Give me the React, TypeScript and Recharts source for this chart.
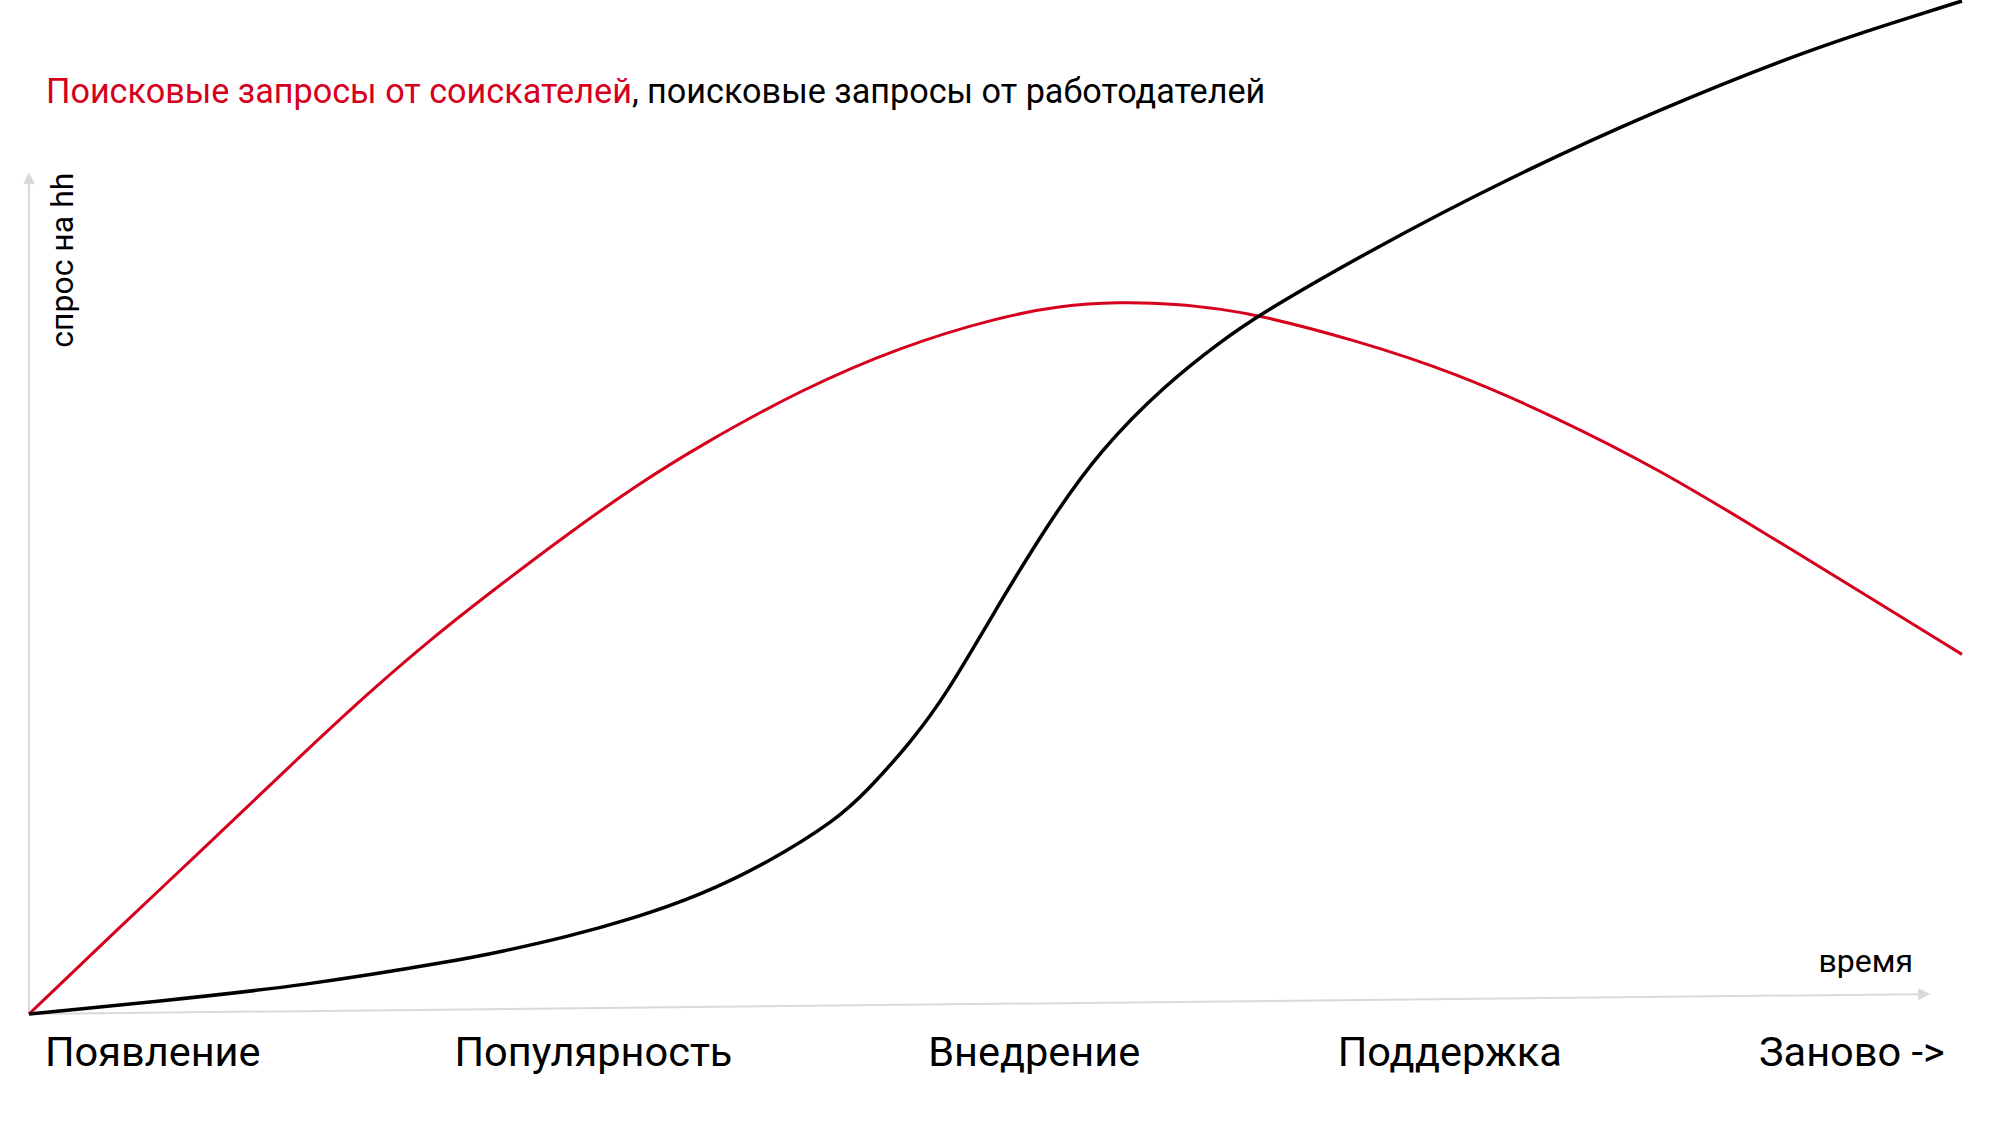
import React from "react";
import { LineChart, Line, XAxis, YAxis, ReferenceLine } from "recharts";

// values, time and demand both on a 0..100 scale
const seekerTime = [0, 5.1, 8.85, 14.0, 17.5, 20.9, 24.4, 27.8, 31.5, 34.7, 39.9, 45.1, 50.2, 53.3, 56.3, 59.5, 61.6, 63.6, 68.5, 73.8, 79.0, 84.3, 89.6, 94.9, 100];
const seekerDemand = [0, 9.3, 16.0, 25.4, 31.6, 37.2, 42.4, 47.3, 52.3, 56.1, 61.6, 65.9, 68.8, 69.9, 70.3, 70.1, 69.6, 69.0, 66.6, 63.3, 58.9, 53.8, 47.7, 41.5, 35.5];

const employerTime = [0, 6.4, 14.3, 22.2, 24.4, 27.8, 31.3, 34.7, 38.2, 41.8, 43.4, 45.7, 47.5, 49.7, 52.5, 55.4, 58.9, 61.6, 63.6, 69.4, 76.4, 84.3, 92.2, 97.5, 100];
const employerDemand = [0, 1.2, 2.8, 5.3, 6.15, 7.6, 9.45, 11.7, 14.9, 19.2, 22.1, 27.0, 31.7, 38.9, 47.8, 55.7, 62.3, 66.3, 69.0, 75.4, 82.4, 89.3, 95.3, 98.5, 100];

const stageTicks = [6.4, 29.2, 52.0, 73.5, 94.3];
const stageLabels = ["Появление", "Популярность", "Внедрение", "Поддержка", "Заново ->"];

const seekerData = seekerTime.map((t, i) => ({ t, v: seekerDemand[i] }));
const employerData = employerTime.map((t, i) => ({ t, v: employerDemand[i] }));

const RED = "#d6001c";
const AXIS = "#d9d9d9";
const FONT = "Roboto, sans-serif";

const arrowShape = (kind: "x" | "y") => (props: any) => {
  const { x1, y1, x2, y2 } = props;
  const a = Math.atan2(y2 - y1, x2 - x1);
  const len = 12;
  const half = 6;
  const bx = x2 - len * Math.cos(a);
  const by = y2 - len * Math.sin(a);
  const px = -Math.sin(a) * half;
  const py = Math.cos(a) * half;
  return (
    <g>
      <line x1={x1} y1={y1} x2={bx} y2={by} stroke={AXIS} strokeWidth={2} />
      <polygon points={`${x2},${y2} ${bx + px},${by + py} ${bx - px},${by - py}`} fill={AXIS} />
      {kind === "x" ? (
        <text x={x2 - 17} y={y2 - 22} textAnchor="end" fontSize={32} fontFamily={FONT} fill="#000">
          время
        </text>
      ) : (
        <text
          x={x2 + 44}
          y={y2 + 88}
          textAnchor="middle"
          fontSize={32}
          fontFamily={FONT}
          fill="#000"
          transform={`rotate(-90 ${x2 + 44} ${y2 + 88})`}
        >
          спрос на hh
        </text>
      )}
    </g>
  );
};

const StageTick = ({ x, y, payload }: any) => {
  const i = stageTicks.indexOf(payload.value);
  return (
    <text x={x} y={y + 52} textAnchor="middle" fontSize={41.5} fontFamily={FONT} fill="#000">
      {stageLabels[i]}
    </text>
  );
};

export default function App() {
  return (
    <div style={{ position: "absolute", left: 0, top: 0, width: 1999, height: 1127, background: "#fff" }}>
      <div
        style={{
          position: "absolute",
          left: 46,
          top: 74,
          fontFamily: FONT,
          fontSize: 34.2,
          lineHeight: "34px",
          whiteSpace: "nowrap",
          color: "#000",
        }}
      >
        <span style={{ color: RED }}>Поисковые запросы от соискателей</span>, поисковые запросы от работодателей
      </div>
      <LineChart width={1999} height={1127} margin={{ top: 1, right: 37, left: 29, bottom: 53 }}>
        <XAxis
          type="number"
          dataKey="t"
          domain={[0, 100]}
          ticks={stageTicks}
          axisLine={false}
          tickLine={false}
          tickSize={0}
          tickMargin={0}
          height={60}
          interval={0}
          tick={<StageTick />}
        />
        <YAxis type="number" dataKey="v" domain={[0, 100]} hide />
        <ReferenceLine
          segment={[{ x: 0, y: 0 }, { x: 98.35, y: 1.97 }]}
          ifOverflow="visible"
          shape={arrowShape("x")}
        />
        <ReferenceLine
          segment={[{ x: 0, y: 0 }, { x: 0, y: 83.1 }]}
          ifOverflow="visible"
          shape={arrowShape("y")}
        />
        <Line
          data={seekerData}
          dataKey="v"
          type="basis"
          stroke={RED}
          strokeWidth={3}
          dot={false}
          isAnimationActive={false}
        />
        <Line
          data={employerData}
          dataKey="v"
          type="basis"
          stroke="#000"
          strokeWidth={3.5}
          dot={false}
          isAnimationActive={false}
        />
      </LineChart>
    </div>
  );
}
